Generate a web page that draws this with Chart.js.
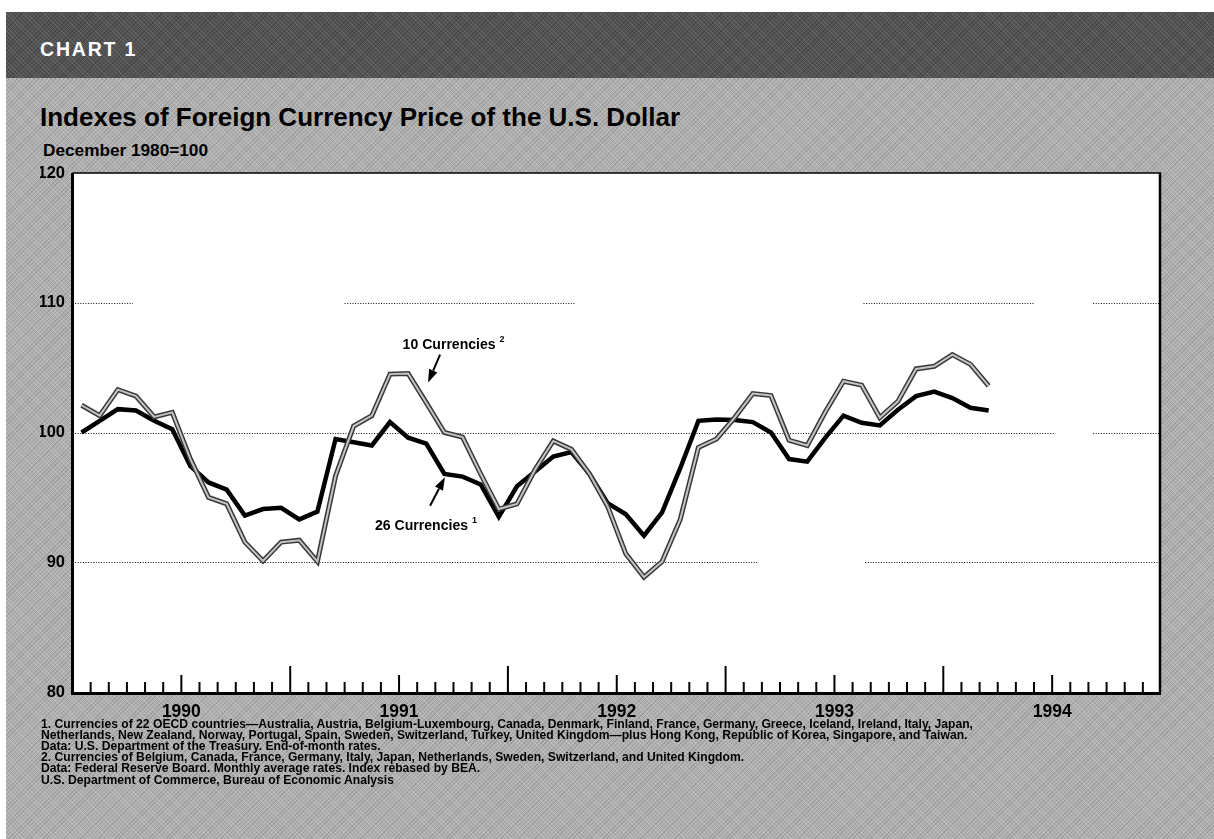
<!DOCTYPE html>
<html>
<head>
<meta charset="utf-8">
<script src="https://cdn.jsdelivr.net/npm/chart.js@4.4.1/dist/chart.umd.min.js"></script>
<style>
  html, body { margin: 0; padding: 0; }
  body { width: 1214px; height: 839px; position: relative; overflow: hidden; background: #fff;
         font-family: "Liberation Sans", Arial, Helvetica, sans-serif; color: #000; }
  #bg { position: absolute; left: 6px; top: 12px; right: 0; bottom: 0;
        background-color: #b0b0b0;
        background-image:
          repeating-linear-gradient(45deg, rgba(255,255,255,0.16) 0 1px, transparent 1px 3px),
          repeating-linear-gradient(-45deg, rgba(0,0,0,0.12) 0 1px, transparent 1px 3px); }
  #band { position: absolute; left: 6px; top: 12px; right: 0; height: 66px;
          background-color: #535353;
          background-image:
            repeating-linear-gradient(45deg, rgba(255,255,255,0.10) 0 1px, transparent 1px 3px),
            repeating-linear-gradient(-45deg, rgba(0,0,0,0.18) 0 1px, transparent 1px 3px); }
  .txt { position: absolute; white-space: nowrap; line-height: 1; transform-origin: 0 0; }
  #chartnum { left: 40px; top: 40px; font-size: 19.5px; font-weight: bold; color: #fff; letter-spacing: 1.8px; }
  #title { left: 40px; top: 104px; font-size: 26px; font-weight: bold; }
  #subtitle { left: 43px; top: 142.5px; font-size: 16px; font-weight: bold; }
  .note { left: 41px; font-size: 12.7px; font-weight: bold; }
  canvas { position: absolute; left: 0; top: 0; }
</style>
</head>
<body>
<div id="bg"></div>
<div id="band"></div>
<div class="txt" id="chartnum">CHART 1</div>
<div class="txt" id="title">Indexes of Foreign Currency Price of the U.S. Dollar</div>
<div class="txt" id="subtitle">December 1980=100</div>
<canvas id="c" width="1214" height="839"></canvas>
<div class="txt note" id="note1" style="top:718px">1. Currencies of 22 OECD countries—Australia, Austria, Belgium-Luxembourg, Canada, Denmark, Finland, France, Germany, Greece, Iceland, Ireland, Italy, Japan,</div>
<div class="txt note" style="top:729px">Netherlands, New Zealand, Norway, Portugal, Spain, Sweden, Switzerland, Turkey, United Kingdom—plus Hong Kong, Republic of Korea, Singapore, and Taiwan.</div>
<div class="txt note" style="top:740.3px">Data: U.S. Department of the Treasury. End-of-month rates.</div>
<div class="txt note" style="top:751px">2. Currencies of Belgium, Canada, France, Germany, Italy, Japan, Netherlands, Sweden, Switzerland, and United Kingdom.</div>
<div class="txt note" style="top:761.7px">Data: Federal Reserve Board. Monthly average rates. Index rebased by BEA.</div>
<div class="txt note" style="top:774px">U.S. Department of Commerce, Bureau of Economic Analysis</div>
<script>
// ---------- data ----------
const months = [
  '1990-01','1990-02','1990-03','1990-04','1990-05','1990-06','1990-07','1990-08','1990-09','1990-10','1990-11','1990-12',
  '1991-01','1991-02','1991-03','1991-04','1991-05','1991-06','1991-07','1991-08','1991-09','1991-10','1991-11','1991-12',
  '1992-01','1992-02','1992-03','1992-04','1992-05','1992-06','1992-07','1992-08','1992-09','1992-10','1992-11','1992-12',
  '1993-01','1993-02','1993-03','1993-04','1993-05','1993-06','1993-07','1993-08','1993-09','1993-10','1993-11','1993-12',
  '1994-01','1994-02','1994-03'
];
const currencies26 = [
  100.0, 100.9, 101.8, 101.7, 100.9, 100.25, 97.4, 96.15, 95.6, 93.6, 94.1, 94.2,
  93.3, 93.9, 99.5, 99.25, 99.0, 100.8, 99.6, 99.15, 96.8, 96.6, 96.0, 93.5,
  95.85, 97.0, 98.15, 98.5, 96.8, 94.55, 93.7, 92.05, 93.85, 97.25, 100.9, 101.0,
  100.97, 100.8, 100.0, 97.95, 97.75, 99.6, 101.3, 100.75, 100.55, 101.75, 102.8, 103.15,
  102.65, 101.9, 101.7
];
const currencies10 = [
  102.1, 101.3, 103.3, 102.8, 101.2, 101.55, 97.95, 95.0, 94.5, 91.55, 90.1, 91.55,
  91.7, 90.05, 96.65, 100.5, 101.3, 104.5, 104.55, 102.3, 100.0, 99.65, 96.8, 94.1,
  94.5, 97.15, 99.35, 98.7, 96.8, 94.3, 90.65, 88.85, 90.05, 93.3, 98.85, 99.5,
  101.15, 103.0, 102.85, 99.4, 99.0, 101.6, 103.95, 103.65, 101.15, 102.4, 104.9, 105.1,
  106.0, 105.25, 103.6
];
const yearLabels = ['1990', '1991', '1992', '1993', '1994'];
const yTickValues = [80, 90, 100, 110, 120];

// ---------- helpers ----------
const FONT = '"Liberation Sans", Arial, Helvetica, sans-serif';
const firstYear = 1990;
function monthPos(label) { // month index from Jan 1990, plotted at mid-month
  const [y, m] = label.split('-').map(Number);
  return (y - firstYear) * 12 + (m - 1) + 0.5;
}
const toPoints = vals => vals.map((v, i) => ({ x: monthPos(months[i]), y: v }));

// condense text blocks to the measured widths of the printed type
function fitWidth(el, target) {
  const w = el.getBoundingClientRect().width;
  return target / w;
}
const noteScale = fitWidth(document.getElementById('note1'), 932);
document.querySelectorAll('.note').forEach(el => { el.style.transform = 'scaleX(' + noteScale + ')'; });
const sub = document.getElementById('subtitle');
sub.style.transform = 'scaleX(' + fitWidth(sub, 165) + ')';

// decoration specs (not data)
const gridSegments = [
  { value: 110, spans: [[0, 3.33], [15.0, 27.7], [43.6, 53.06], [56.26, 60]] },
  { value: 100, spans: [[0, 54.16], [56.26, 60]] },
  { value: 90,  spans: [[0, 37.8], [43.7, 60]] }
];
const annotations = [
  { text: '10 Currencies', sup: '2', at: [20.76, 106.46], tail: [20.26, 106.0], tip: [19.6, 103.85] },
  { text: '26 Currencies', sup: '1', at: [19.24, 92.51], tail: [19.71, 94.35], tip: [20.53, 96.56] }
];

const decorPlugin = {
  id: 'decor',
  beforeDraw(chart) {
    const { ctx, chartArea: a, scales } = chart;
    ctx.save();
    ctx.fillStyle = '#ffffff';
    ctx.fillRect(a.left, a.top, a.right - a.left, a.bottom - a.top);
    // dotted grid segments
    ctx.strokeStyle = '#111';
    ctx.lineWidth = 1;
    ctx.setLineDash([1, 1.6]);
    gridSegments.forEach(g => {
      const y = Math.round(scales.y.getPixelForValue(g.value)) + 0.5;
      g.spans.forEach(([s, e]) => {
        ctx.beginPath();
        ctx.moveTo(scales.x.getPixelForValue(s), y);
        ctx.lineTo(scales.x.getPixelForValue(e), y);
        ctx.stroke();
      });
    });
    ctx.restore();
  },
  afterDraw(chart) {
    const { ctx, chartArea: a, scales } = chart;
    const xs = scales.x, ys = scales.y;
    ctx.save();
    // month ticks pointing inward from the bottom
    ctx.strokeStyle = '#000';
    ctx.lineWidth = 2;
    for (let m = 1; m < 60; m++) {
      const len = (m % 12 === 0) ? 26 : (m % 12 === 6 ? 17 : 10);
      const x = xs.getPixelForValue(m);
      ctx.beginPath();
      ctx.moveTo(x, a.bottom);
      ctx.lineTo(x, a.bottom - len);
      ctx.stroke();
    }
    // frame
    ctx.lineWidth = 1.5;
    ctx.beginPath(); ctx.moveTo(a.left, a.top); ctx.lineTo(a.right, a.top); ctx.stroke();
    ctx.lineWidth = 2.5;
    ctx.beginPath(); ctx.moveTo(a.right - 1, a.top); ctx.lineTo(a.right - 1, a.bottom); ctx.stroke();
    ctx.lineWidth = 3;
    ctx.beginPath(); ctx.moveTo(a.left, a.top); ctx.lineTo(a.left, a.bottom + 1.5); ctx.lineTo(a.right, a.bottom + 1.5); ctx.stroke();
    // annotations
    annotations.forEach(an => {
      const tx = xs.getPixelForValue(an.at[0]);
      const ty = ys.getPixelForValue(an.at[1]);
      ctx.fillStyle = '#000';
      ctx.font = 'bold 15.5px ' + FONT;
      ctx.textAlign = 'center';
      ctx.textBaseline = 'alphabetic';
      ctx.fillText(an.text, tx, ty, 93);
      const w = Math.min(ctx.measureText(an.text).width, 93);
      ctx.font = 'bold 9px ' + FONT;
      ctx.textAlign = 'left';
      ctx.fillText(an.sup, tx + w / 2 + 4, ty - 7);
      // arrow
      const x0 = xs.getPixelForValue(an.tail[0]), y0 = ys.getPixelForValue(an.tail[1]);
      const x1 = xs.getPixelForValue(an.tip[0]), y1 = ys.getPixelForValue(an.tip[1]);
      const ang = Math.atan2(y1 - y0, x1 - x0);
      const hl = 13, hw = 4.5;
      const bx = x1 - hl * Math.cos(ang), by = y1 - hl * Math.sin(ang);
      ctx.lineWidth = 2;
      ctx.beginPath(); ctx.moveTo(x0, y0); ctx.lineTo(bx, by); ctx.stroke();
      ctx.beginPath();
      ctx.moveTo(x1, y1);
      ctx.lineTo(bx + hw * Math.sin(ang), by - hw * Math.cos(ang));
      ctx.lineTo(bx - hw * Math.sin(ang), by + hw * Math.cos(ang));
      ctx.closePath();
      ctx.fill();
    });
    ctx.restore();
  }
};

new Chart(document.getElementById('c'), {
  type: 'line',
  data: {
    datasets: [
      { label: '10 Currencies', data: toPoints(currencies10), borderColor: '#c4c4c4', borderWidth: 2,
        pointRadius: 0, tension: 0, order: 0 },
      { label: '10 Currencies outline', data: toPoints(currencies10), borderColor: '#383838', borderWidth: 5,
        pointRadius: 0, tension: 0, order: 1 },
      { label: '26 Currencies', data: toPoints(currencies26), borderColor: '#000000', borderWidth: 4.5,
        pointRadius: 0, tension: 0, order: 2 }
    ]
  },
  options: {
    responsive: false,
    animation: false,
    devicePixelRatio: 1,
    layout: { padding: { left: 40, right: 53, top: 173, bottom: 107 } },
    plugins: { legend: { display: false }, tooltip: { enabled: false }, title: { display: false } },
    scales: {
      x: {
        type: 'linear', min: 0, max: 60,
        grid: { display: false, drawTicks: false },
        border: { display: false },
        afterBuildTicks: s => { s.ticks = yearLabels.map((_, i) => ({ value: i * 12 + 6 })); },
        ticks: { autoSkip: false, maxRotation: 0, padding: 10, color: '#000',
                 font: { size: 17.5, weight: 'bold', family: FONT },
                 callback: (v, i) => yearLabels[i] },
        afterFit: s => { s.height = 40; }
      },
      y: {
        min: 80, max: 120,
        afterBuildTicks: s => { s.ticks = yTickValues.map(v => ({ value: v })); },
        grid: { display: false, drawTicks: false },
        border: { display: false },
        ticks: { padding: 7.5, color: '#000', font: { size: 16.5, weight: 'bold', family: FONT } },
        afterFit: s => { s.width = 32.5; }
      }
    }
  },
  plugins: [decorPlugin]
});
</script>
</body>
</html>
